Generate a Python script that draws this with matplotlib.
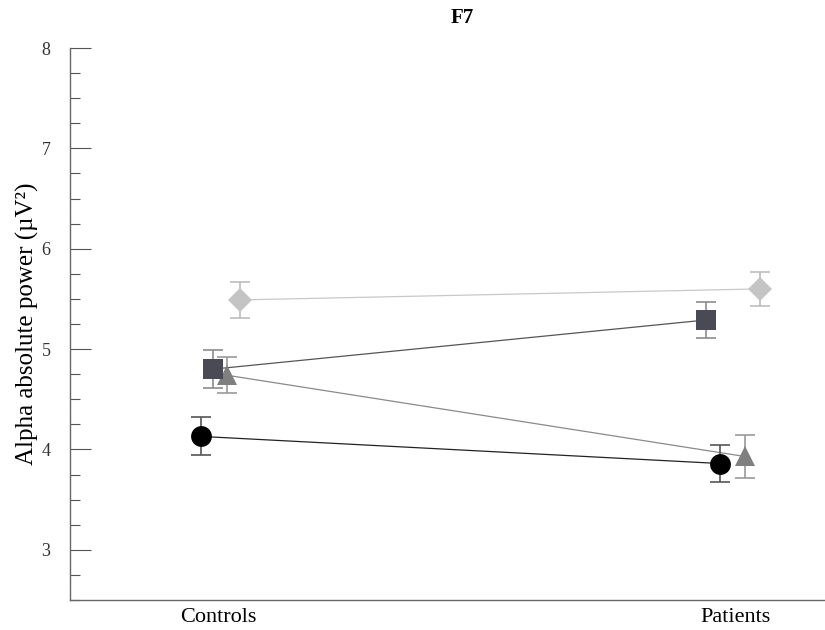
import matplotlib
matplotlib.use("Agg")
import matplotlib.pyplot as plt
from matplotlib.ticker import MultipleLocator

plt.rcParams['font.family'] = ['Liberation Serif', 'DejaVu Serif']

groups = ['Controls', 'Patients']

# mean alpha power and error per condition (Controls, Patients)
circle_mean = [4.13, 3.86]
circle_err = [0.19, 0.18]
square_mean = [4.80, 5.29]
square_err = [0.19, 0.18]
triangle_mean = [4.74, 3.93]
triangle_err = [0.18, 0.21]
diamond_mean = [5.49, 5.60]
diamond_err = [0.18, 0.17]

# horizontal dodge so the markers don't sit on top of each other
dodge = {
    'circle': [-0.033, -0.029],
    'square': [-0.010, -0.056],
    'triangle': [0.017, 0.019],
    'diamond': [0.043, 0.048],
}

series = [
    ('diamond', diamond_mean, diamond_err, 'D', '#c4c4c4', '#c8c8c8', '#bdbdbd', 12),
    ('triangle', triangle_mean, triangle_err, '^', '#7f7f7f', '#8a8a8a', '#9a9a9a', 14),
    ('square', square_mean, square_err, 's', '#4a4a56', '#555555', '#8c8c8c', 14.5),
    ('circle', circle_mean, circle_err, 'o', '#000000', '#222222', '#555555', 15),
]

fig = plt.figure(figsize=(8.25, 6.3), dpi=100)
ax = fig.add_axes([0.0848, 0.0476, 0.9152, 0.8762])

for name, mean, err, marker, mcolor, lcolor, ecolor, ms in series:
    xs = [i + d for i, d in enumerate(dodge[name])]
    ax.plot(xs, mean, color=lcolor, lw=0.9, zorder=2)
    ax.errorbar(xs, mean, yerr=err, fmt='none', ecolor=ecolor, elinewidth=1.2,
                capsize=7, capthick=1.2, zorder=3)
    ax.plot(xs, mean, ls='none', marker=marker, color=mcolor, ms=ms,
            markeredgewidth=0, zorder=4)

ax.set_xlim(-0.286, 1.174)
ax.set_ylim(2.5, 8)
ax.set_xticks(range(len(groups)))
ax.set_xticklabels(groups, fontsize=16)
ax.tick_params(axis='x', length=0, pad=6)

ax.yaxis.set_major_locator(MultipleLocator(1))
ax.yaxis.set_minor_locator(MultipleLocator(0.25))
ax.tick_params(axis='y', which='major', direction='in', length=15, width=0.8,
               color='#555555', labelsize=13, labelcolor='#333333', pad=14)
ax.tick_params(axis='y', which='minor', direction='in', length=7, width=0.8,
               color='#555555')

for side in ['top', 'right']:
    ax.spines[side].set_visible(False)
for side in ['left', 'bottom']:
    ax.spines[side].set_color('#666666')
    ax.spines[side].set_linewidth(1.0)

ax.set_ylabel('Alpha absolute power (µV²)', fontsize=18, labelpad=2)
fig.text(0.56, 0.972, 'F7', ha='center', va='center', fontsize=15,
         fontweight='bold')

fig.savefig('out.png', dpi=100)
